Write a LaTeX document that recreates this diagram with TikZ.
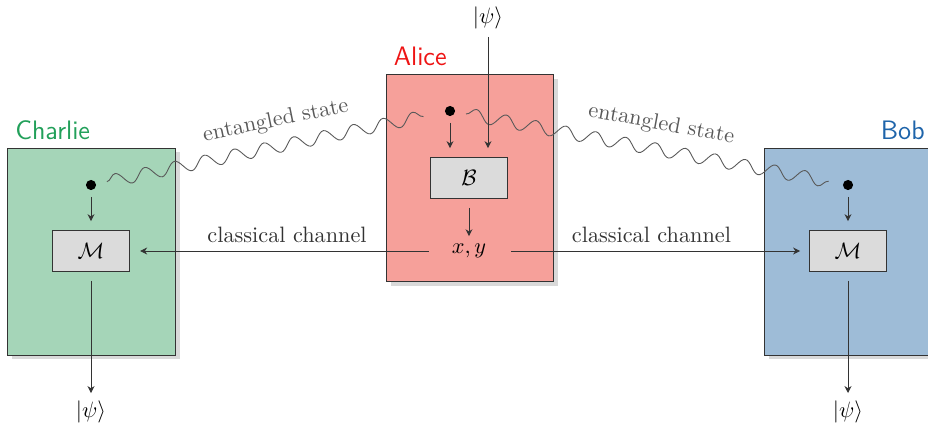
\documentclass[tikz,border=0pt]{standalone}
\usepackage{xcolor}
\usepackage{amsmath}
\usepackage{tikz}
\usetikzlibrary{arrows.meta,positioning,shadows,decorations.pathmorphing}

\definecolor{charliefill}{RGB}{165,213,184}
\definecolor{alicefill}{RGB}{246,160,154}
\definecolor{bobfill}{RGB}{158,188,215}
\definecolor{charliecol}{RGB}{34,160,90}
\definecolor{alicecol}{RGB}{238,20,20}
\definecolor{bobcol}{RGB}{30,100,170}

\begin{document}
\begin{tikzpicture}[
  x=0.0158cm, y=-0.0158cm,      % <-- coordenadas en pixeles
  party/.style={draw=black!80, minimum width=2.64cm, minimum height=3.27cm, drop shadow={shadow xshift=2pt, shadow yshift=-2pt, opacity=.3}},
  meas/.style={draw=black!80, fill=black!14, minimum width=1.22cm, minimum height=0.65cm},
  dot/.style={circle, fill=black, inner sep=0pt, minimum size=1.6mm},
  lbl/.style={font=\sffamily\large},
  edg/.style={-{Stealth[length=1.1mm, width=1.1mm]}, black!80, shorten <=0.14cm, shorten >=0.14cm},
  wav/.style={black!65, decorate, decoration={snake, amplitude=0.1cm, segment length=0.48cm, pre=moveto, pre length=0.17cm, post=moveto, post length=0.17cm}},
  wavtxt/.style={text=black!65}
]
\useasboundingbox (0,0) rectangle (928,428);

\node[party, fill=charliefill] (charlie) at (91.5,251.5) {};
\node[party, fill=alicefill] (alice) at (470,178) {};
\node[party, fill=bobfill] (bob) at (848.5,251.5) {};

\node[lbl, text=charliecol, anchor=south west] (charlielbl) at (charlie.north west) {Charlie};
\node[lbl, text=alicecol, anchor=south west] (alicelbl) at (alice.north west) {Alice};
\node[lbl, text=bobcol, anchor=south east] (boblbl) at (bob.north east) {Bob};

\node[dot] (cdot) at (91,185) {};
\node[dot] (adot) at (450,111) {};
\node[dot] (bdot) at (848,185) {};

\node[meas] (cM) at (91,251) {$\mathcal{M}$};
\node[meas] (aB) at (469,178) {$\mathcal{B}$};
\node[meas] (bM) at (848,251) {$\mathcal{M}$};
\node (axy) at (469,251) {$x,y$};

\node (psiA) at (488,18) {$|\psi\rangle$};
\node (psiC) at (91,412) {$|\psi\rangle$};
\node (psiB) at (848,412) {$|\psi\rangle$};

% entrelazamiento
\draw[wav] (cdot) -- node[pos=0.53, above=1.2mm, sloped, wavtxt] {entangled state} (adot);
\draw[wav] (adot) -- node[pos=0.52, above=1.2mm, sloped, wavtxt] {entangled state} (bdot);

\draw[edg, shorten <=0.1cm] (cdot) -- (cM);
\draw[edg, shorten <=0.1cm] (bdot) -- (bM);
\draw[edg, shorten <=0.1cm] (adot) -- (adot |- aB.north);
\draw[edg, shorten <=0pt] (psiA) -- (psiA |- aB.north);
\draw[edg, shorten >=0pt] (aB) -- (axy);

% canal clasico
\draw[edg, shorten <=0.24cm, shorten >=0.16cm] (axy) -- node[above] {classical channel} (cM);
\draw[edg, shorten <=0.27cm] (axy) -- node[above] {classical channel} (bM);

\draw[edg, shorten >=0pt] (cM) -- (psiC);
\draw[edg, shorten >=0pt] (bM) -- (psiB);

\end{tikzpicture}
\end{document}
